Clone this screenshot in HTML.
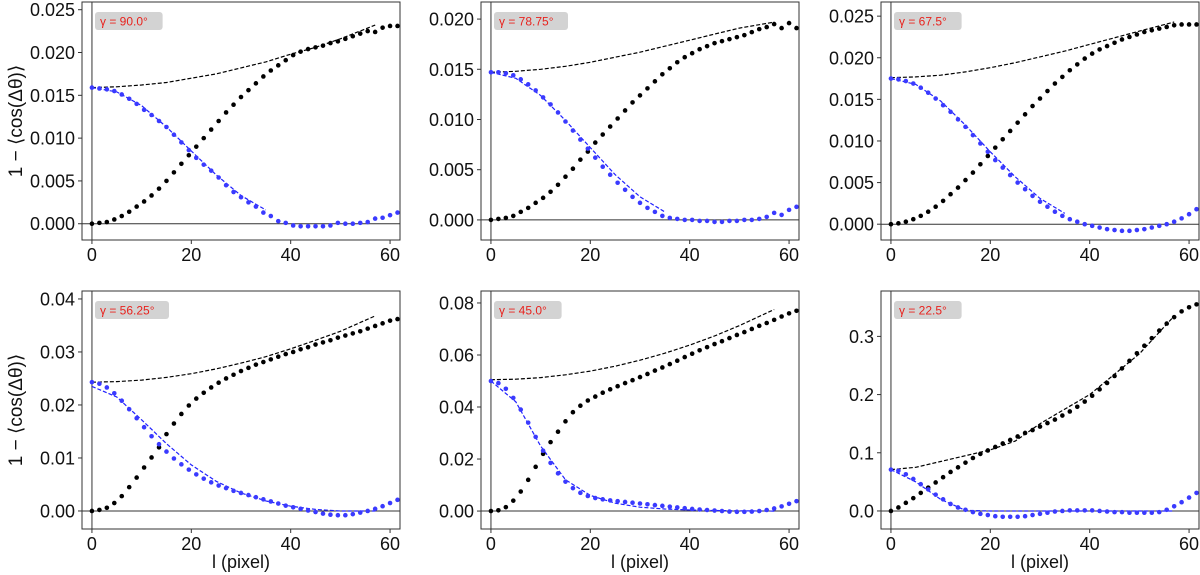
<!DOCTYPE html>
<html><head><meta charset="utf-8"><style>
html,body{margin:0;padding:0;background:#fff;}
svg{display:block;font-family:"Liberation Sans",sans-serif;}
</style></head><body>
<svg id="fig" width="1200" height="575" viewBox="0 0 1200 575" xmlns="http://www.w3.org/2000/svg"></svg>
<script>
const lValues=[0,1.5,3,4.5,6,7.5,9,10.5,12,13.5,15,16.5,18,19.5,21,22.5,24,25.5,27,28.5,30,31.5,33,34.5,36,37.5,39,40.5,42,43.5,45,46.5,48,49.5,51,52.5,54,55.5,57,58.5,60,61.5];
const fitL=[0,5,10,15,20,25,30,35,40,45,50,57];
const gammaLabels=["γ = 90.0°","γ = 78.75°","γ = 67.5°","γ = 56.25°","γ = 45.0°","γ = 22.5°"];
const black1=[0,.0001,.0002,.0005,.0009,.0014,.0020,.0026,.0033,.0041,.0050,.0060,.0070,.0080,.0090,.0100,.0110,.0120,.0130,.0139,.0148,.0156,.0164,.0172,.0179,.0185,.0191,.0197,.0201,.0204,.0206,.0208,.0211,.0213,.0216,.0219,.0222,.0225,.0224,.0229,.0231,.0231];
const blue1=[.0159,.0158,.0157,.0155,.0151,.0146,.0140,.0133,.0127,.0120,.0113,.0104,.0095,.0086,.0077,.0069,.0062,.0054,.0045,.0037,.0031,.0025,.0020,.0013,.0009,.0003,.0001,-.0002,-.0003,-.0003,-.0003,-.0003,-.0002,.0001,0,0,.0001,.0002,.0006,.0007,.0010,.0013];
const blackFit1=[.0159,.0160,.0162,.0165,.0170,.0175,.0182,.0189,.0198,.0206,.0216,.0232];
const blueFit1=[.0159,.0154,.0138,.0113,.0085,.0057,.0033,.0016,null,null,null,null];
const black2=[0,.0001,.0002,.0004,.0008,.0012,.0017,.0022,.0028,.0035,.0043,.0051,.0060,.0068,.0077,.0085,.0093,.0101,.0109,.0117,.0124,.0131,.0138,.0145,.0151,.0157,.0162,.0166,.0170,.0173,.0176,.0178,.0180,.0182,.0184,.0187,.0190,.0192,.0195,.0191,.0196,.0191];
const blue2=[.0147,.0147,.0146,.0144,.0140,.0135,.0129,.0122,.0115,.0107,.0098,.0089,.0080,.0071,.0062,.0053,.0045,.0037,.0030,.0023,.0017,.0012,.0008,.0004,.0002,.0001,0,0,-.0001,-.0001,-.0002,-.0002,-.0001,-.0001,0,0,.0001,.0003,.0007,.0005,.0010,.0013];
const blackFit2=[.0147,.0148,.0150,.0153,.0157,.0162,.0167,.0173,.0179,.0185,.0191,.0197];
const blueFit2=[.0147,.0141,.0124,.0099,.0072,.0045,.0023,.0008,null,null,null,null];
const black3=[0,.0001,.0003,.0006,.0010,.0015,.0021,.0028,.0036,.0044,.0053,.0062,.0072,.0082,.0092,.0102,.0112,.0122,.0132,.0142,.0151,.0160,.0169,.0177,.0185,.0192,.0199,.0205,.0210,.0214,.0218,.0222,.0225,.0228,.0231,.0233,.0235,.0237,.0239,.0240,.0240,.0240];
const blue3=[.0175,.0174,.0172,.0169,.0164,.0158,.0151,.0143,.0135,.0126,.0117,.0107,.0097,.0087,.0077,.0068,.0059,.0050,.0042,.0034,.0027,.0021,.0015,.0010,.0006,.0003,0,-.0002,-.0004,-.0006,-.0007,-.0008,-.0008,-.0007,-.0006,-.0004,-.0002,0,.0003,.0007,.0012,.0018];
const blackFit3=[.0176,.0177,.0179,.0183,.0188,.0194,.0201,.0208,.0216,.0224,.0232,.0243];
const blueFit3=[.0175,.0168,.0148,.0119,.0087,.0057,.0031,.0013,null,null,null,null];
const black4=[0,.0002,.0006,.0015,.0028,.0045,.0063,.0082,.0101,.0120,.0145,.0165,.0183,.0199,.0212,.0223,.0233,.0242,.0250,.0257,.0264,.0270,.0276,.0281,.0286,.0291,.0296,.0300,.0305,.0309,.0314,.0318,.0322,.0327,.0331,.0335,.0339,.0344,.0349,.0354,.0359,.0362];
const blue4=[.0243,.0240,.0233,.0222,.0208,.0192,.0175,.0158,.0141,.0126,.0112,.0099,.0088,.0078,.0069,.0061,.0054,.0048,.0043,.0038,.0034,.0030,.0026,.0022,.0018,.0014,.0010,.0007,.0004,.0001,-.0002,-.0005,-.0007,-.0008,-.0008,-.0006,-.0003,0,.0004,.0009,.0015,.0021];
const blackFit4=[.0243,.0244,.0247,.0252,.0259,.0268,.0279,.0291,.0306,.0322,.0339,.0368];
const blueFit4=[.0235,.0215,.0172,.0127,.0087,.0056,.0034,.0019,.0009,.0003,0,0];
const black5=[0,.0003,.0015,.0040,.0075,.0120,.0170,.0220,.0265,.0305,.0345,.0380,.0405,.0425,.0440,.0455,.0468,.0480,.0492,.0503,.0515,.0527,.0540,.0552,.0565,.0578,.0592,.0605,.0618,.0630,.0642,.0653,.0665,.0677,.0688,.0700,.0712,.0723,.0735,.0748,.0760,.0770];
const blue5=[.0500,.0492,.0470,.0435,.0390,.0340,.0285,.0232,.0185,.0145,.0113,.0088,.0070,.0058,.0050,.0045,.0041,.0038,.0035,.0032,.0029,.0026,.0023,.0020,.0017,.0014,.0011,.0008,.0006,.0004,.0002,0,-.0002,-.0003,-.0003,-.0002,0,.0004,.0010,.0018,.0028,.0038];
const blackFit5=[.0505,.0507,.0513,.0524,.0538,.0557,.0580,.0607,.0638,.0673,.0713,.0775];
const blueFit5=[.050,.042,.025,.012,.006,.003,.0015,.0008,.0004,.0002,.0001,0];
const black6=[0,.006,.014,.022,.031,.040,.049,.058,.067,.075,.083,.091,.098,.104,.110,.116,.122,.128,.134,.139,.145,.151,.157,.164,.171,.179,.188,.198,.209,.220,.232,.245,.258,.271,.284,.297,.310,.322,.333,.343,.350,.355];
const blue6=[.071,.069,.063,.055,.046,.037,.028,.020,.012,.006,.002,-.002,-.005,-.007,-.009,-.010,-.010,-.010,-.009,-.007,-.005,-.003,-.001,0,.001,.001,.001,.001,0,-.001,-.002,-.002,-.003,-.003,-.003,-.003,-.002,.002,.008,.015,.023,.031];
const blackFit6=[.071,.075,.085,.095,.105,.120,.150,.175,.200,.235,.270,.335];
const blueFit6=[.071,.050,.020,.001,0,0,0,0,0,0,0,0];
const yTicks1=[0,.005,.010,.015,.020,.025];
const yTicks2=[0,.005,.010,.015,.020];
const yTicks4=[0,.01,.02,.03,.04];
const yTicks5=[0,.02,.04,.06,.08];
const yTicks6=[0,.1,.2,.3];
const xTicks=[0,20,40,60];

const panels=[
 {black:black1,blue:blue1,bf:blackFit1,uf:blueFit1,ymin:-0.0019,ymax:0.0259,ticks:yTicks1,dec:3,left:82,top:2},
 {black:black2,blue:blue2,bf:blackFit2,uf:blueFit2,ymin:-0.002,ymax:0.0217,ticks:yTicks2,dec:3,left:481,top:2},
 {black:black3,blue:blue3,bf:blackFit3,uf:blueFit3,ymin:-0.0019,ymax:0.0267,ticks:yTicks1,dec:3,left:881,top:2},
 {black:black4,blue:blue4,bf:blackFit4,uf:blueFit4,ymin:-0.0034,ymax:0.0415,ticks:yTicks4,dec:2,left:82,top:291},
 {black:black5,blue:blue5,bf:blackFit5,uf:blueFit5,ymin:-0.0069,ymax:0.0846,ticks:yTicks5,dec:2,left:481,top:291},
 {black:black6,blue:blue6,bf:blackFit6,uf:blueFit6,ymin:-0.031,ymax:0.378,ticks:yTicks6,dec:1,left:881,top:291}
];
const W=318,H=238,XMIN=-2,XMAX=62;
const NS="http://www.w3.org/2000/svg";
const svg=document.getElementById('fig');
function mk(tag,attrs,parent){const e=document.createElementNS(NS,tag);for(const k in attrs)e.setAttribute(k,attrs[k]);(parent||svg).appendChild(e);return e;}

panels.forEach((p,i)=>{
 const g=mk('g',{});
 
 
 const xs=v=>p.left+(v-XMIN)/(XMAX-XMIN)*W;
 const ys=v=>p.top+(p.ymax-v)/(p.ymax-p.ymin)*H;
 const hz=mk('line',{x1:p.left,x2:p.left+W,y1:ys(0),y2:ys(0),stroke:'#333','stroke-width':1},g);
 
 
 const vz=mk('line',{x1:xs(0),x2:xs(0),y1:p.top,y2:p.top+H,stroke:'#777','stroke-width':1.5},g);
 
 
 function fitPath(arr,color,name){
  let d='';let started=false;
  arr.forEach((v,j)=>{if(v===null)return;d+=(started?'L':'M')+xs(fitL[j]).toFixed(1)+','+ys(v).toFixed(1);started=true;});
  const pa=mk('path',{d:d,fill:'none',stroke:color,'stroke-width':1.2,'stroke-dasharray':'4,2'},g);
  
  
 }
 fitPath(p.bf,'#000','black-fit-line');
 fitPath(p.uf,'#2020ff','blue-fit-line');
 p.black.forEach((v,j)=>{
  const c=mk('circle',{cx:xs(lValues[j]),cy:ys(v),r:2.3,fill:'#000'},g);
  
  
 });
 p.blue.forEach((v,j)=>{
  const c=mk('circle',{cx:xs(lValues[j]),cy:ys(v),r:2.3,fill:'#3a3aff'},g);
  
  
 });
 const fr=mk('rect',{x:p.left,y:p.top,width:W,height:H,fill:'none',stroke:'#333','stroke-width':1},g);
 
 
 p.ticks.forEach(t=>{
  const y=ys(t);
  const tl=mk('line',{x1:p.left-4,x2:p.left,y1:y,y2:y,stroke:'#333'},g);
  
  
  const tx=mk('text',{x:p.left-7,y:y+6.5,'text-anchor':'end','font-size':18,fill:'#111'},g);
  tx.textContent=t.toFixed(p.dec);
  
  
 });
 xTicks.forEach(t=>{
  const x=xs(t);
  const tl=mk('line',{x1:x,x2:x,y1:p.top+H,y2:p.top+H+4,stroke:'#333'},g);
  
  
  const tx=mk('text',{x:x,y:p.top+H+21,'text-anchor':'middle','font-size':18,fill:'#111'},g);
  tx.textContent=String(t);
  
  
 });
 const lb=mk('rect',{x:p.left+13,y:p.top+10,width:gammaLabels[i].length*6.4+10,height:18,rx:3,fill:'#d3d3d3'},g);
 
 
 const lt=mk('text',{x:p.left+18,y:p.top+23.5,'font-size':12,fill:'#e8231e'},g);
 lt.textContent=gammaLabels[i];
 
 
});
[121,410].forEach(cy=>{
 const t=mk('text',{x:0,y:0,'text-anchor':'middle','font-size':19,fill:'#111',transform:'translate(22,'+cy+') rotate(-90)'});
 t.textContent='1 − ⟨cos(Δθ)⟩';
 
 
});
[241,640,1040].forEach(cx=>{
 const t=mk('text',{x:cx,y:568,'text-anchor':'middle','font-size':18,fill:'#111'});
 t.textContent='l (pixel)';
 
 
});
</script>
</body></html>
